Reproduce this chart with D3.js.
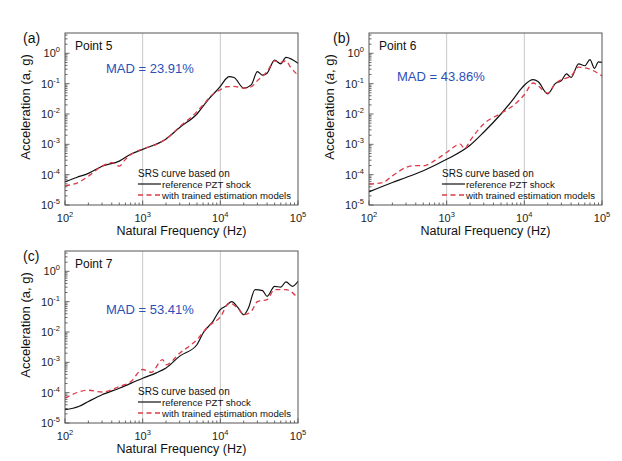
<!DOCTYPE html>
<html><head><meta charset="utf-8">
<script src="https://cdn.jsdelivr.net/npm/d3@7"></script>
<style>body{margin:0;background:#fff}svg{display:block;font-family:"Liberation Sans",Arial,sans-serif}</style>
</head><body><svg id="c" width="622" height="461"></svg>
<script>
// ---- data (frequency in Hz, acceleration in g) ----
const tickExponentsX = [2, 3, 4, 5];
const tickExponentsY = [-5, -4, -3, -2, -1, 0];
const panelLabels = ["(a)", "(b)", "(c)"];
const pointLabels = ["Point 5", "Point 6", "Point 7"];
const madLabels = ["MAD = 23.91%", "MAD = 43.86%", "MAD = 53.41%"];
const legendTexts = ["SRS curve based on", "reference PZT shock", "with trained estimation models"];

const refFreqA = [100,141,200,300,500,700,1000,2000,3000,5000,7000,10000,12000,13000,15000,20000,25000,30000,35000,40000,50000,60000,70000,100000];
const refValA  = [5.8e-5,8.1e-5,1.1e-4,1.9e-4,2.8e-4,4.7e-4,6.8e-4,1.5e-3,3.6e-3,0.010,0.030,0.081,0.15,0.17,0.16,0.071,0.091,0.25,0.19,0.22,0.60,0.45,0.74,0.47];
const estFreqA = [100,150,200,300,400,500,600,700,1000,1500,2000,3000,5000,6000,8000,10000,12000,15000,20000,25000,30000,40000,50000,60000,70000,80000,100000];
const estValA  = [4.3e-5,5.6e-5,8.9e-5,1.9e-4,2.5e-4,1.9e-4,3.2e-4,4.5e-4,7.1e-4,1.0e-3,1.5e-3,3.8e-3,0.012,0.020,0.045,0.063,0.079,0.081,0.071,0.079,0.126,0.25,0.56,0.50,0.56,0.35,0.19];

const refFreqB = [100,200,300,500,1000,2000,3000,5000,7000,9000,10000,13000,15000,20000,25000,30000,35000,40000,50000,60000,70000,80000,90000,100000];
const refValB  = [2.7e-5,5.5e-5,8.1e-5,1.35e-4,3.2e-4,9.3e-4,2.5e-3,0.010,0.028,0.066,0.089,0.135,0.117,0.046,0.10,0.126,0.21,0.16,0.45,0.39,0.62,0.32,0.52,0.50];
const estFreqB = [100,150,200,300,400,500,700,1000,1500,1700,2000,3000,5000,7000,10000,13000,15000,20000,25000,30000,40000,50000,70000,100000];
const estValB  = [4.9e-5,5.5e-5,9.1e-5,1.74e-4,2.0e-4,1.95e-4,2.9e-4,5.4e-4,1.02e-3,7.1e-4,1.32e-3,4.7e-3,0.0105,0.018,0.043,0.105,0.085,0.049,0.10,0.135,0.18,0.35,0.30,0.18];

const refFreqC = [100,150,200,300,500,1000,1500,2000,3000,5000,6000,8000,10000,12000,14000,17000,20000,23000,28000,35000,40000,50000,60000,70000,85000,100000];
const refValC  = [2.75e-5,3.5e-5,5.1e-5,8.5e-5,1.4e-4,3.0e-4,4.5e-4,6.5e-4,1.6e-3,3.8e-3,9.3e-3,0.022,0.055,0.074,0.10,0.062,0.037,0.062,0.25,0.23,0.15,0.32,0.30,0.45,0.32,0.47];
const estFreqC = [100,200,300,500,700,1000,1300,1800,2000,3000,5000,7000,10000,13000,17000,20000,25000,30000,40000,50000,70000,100000];
const estValC  = [6.6e-5,1.2e-4,1.05e-4,1.6e-4,2.3e-4,5.8e-4,4.7e-4,1.23e-3,8.3e-4,2.0e-3,5.6e-3,0.0155,0.031,0.091,0.058,0.037,0.048,0.10,0.117,0.25,0.25,0.13];

const panels = [
  {x:65,  y:33,  ref:[refFreqA, refValA], est:[estFreqA, estValA], mad:[41, 40], italic:false},
  {x:369, y:33,  ref:[refFreqB, refValB], est:[estFreqB, estValB], mad:[28, 48], italic:true},
  {x:65,  y:251, ref:[refFreqC, refValC], est:[estFreqC, estValC], mad:[41, 63], italic:false}
];
const W = 233, H = 172;
const svg = d3.select("#c");

panels.forEach((p, i) => {
  const g = svg.append("g").attr("transform", `translate(${p.x},${p.y})`);
  const x = d3.scaleLog().domain([1e2, 1e5]).range([0, W]);
  const y = d3.scaleLog().domain([1e-5, Math.pow(10, 0.67)]).range([H, 0]);

  // gridlines
  g.selectAll(".grid").data([1e3, 1e4]).enter().append("line")
    .attr("x1", d => x(d)).attr("x2", d => x(d)).attr("y1", 0).attr("y2", H)
    .attr("stroke", "#c8c8c8").attr("stroke-width", 1);

  // ticks x
  const xMinor = [];
  for (let e = 2; e < 5; e++) for (let m = 2; m <= 9; m++) xMinor.push(m * Math.pow(10, e));
  g.selectAll(".xmin").data(xMinor).enter().append("line")
    .attr("x1", d => x(d)).attr("x2", d => x(d)).attr("y1", H).attr("y2", H - 2.5)
    .attr("stroke", "#444").attr("stroke-width", 0.8);
  g.selectAll(".xmaj").data(tickExponentsX).enter().append("line")
    .attr("x1", d => x(Math.pow(10, d))).attr("x2", d => x(Math.pow(10, d))).attr("y1", H).attr("y2", H - 4.5)
    .attr("stroke", "#444").attr("stroke-width", 0.8);
  // ticks y
  const yMinor = [];
  for (let e = -5; e <= 0; e++) for (let m = 2; m <= 9; m++) { const v = m * Math.pow(10, e); if (v <= Math.pow(10, 0.67)) yMinor.push(v); }
  g.selectAll(".ymin").data(yMinor).enter().append("line")
    .attr("x1", 0).attr("x2", 2.5).attr("y1", d => y(d)).attr("y2", d => y(d))
    .attr("stroke", "#444").attr("stroke-width", 0.8);
  g.selectAll(".ymaj").data(tickExponentsY).enter().append("line")
    .attr("x1", 0).attr("x2", 4.5).attr("y1", d => y(Math.pow(10, d))).attr("y2", d => y(Math.pow(10, d)))
    .attr("stroke", "#444").attr("stroke-width", 0.8);

  // tick labels
  const xl = g.selectAll(".xl").data(tickExponentsX).enter().append("text")
    .attr("x", d => x(Math.pow(10, d))).attr("y", H + 17).attr("text-anchor", "middle")
    .attr("font-size", 11).attr("fill", "#222");
  xl.append("tspan").text("10");
  xl.append("tspan").attr("dy", -5).attr("font-size", 7.5).text(d => d);
  const yl = g.selectAll(".yl").data(tickExponentsY).enter().append("text")
    .attr("x", -5).attr("y", d => y(Math.pow(10, d)) + 4).attr("text-anchor", "end")
    .attr("font-size", 11).attr("fill", "#222");
  yl.append("tspan").text("10");
  yl.append("tspan").attr("dy", -5).attr("font-size", 7.5).text(d => d);

  // lines
  const line = d3.line().x(d => x(d[0])).y(d => y(d[1])).curve(d3.curveMonotoneX);
  const refPts = p.ref[0].map((f, k) => [f, p.ref[1][k]]);
  const estPts = p.est[0].map((f, k) => [f, p.est[1][k]]);
  g.append("path").datum(refPts).attr("d", line).attr("fill", "none")
    .attr("stroke", "#111").attr("stroke-width", 1.2);
  g.append("path").datum(estPts).attr("d", line).attr("fill", "none")
    .attr("stroke", "#dc3a48").attr("stroke-width", 1.3).attr("stroke-dasharray", "5,3.5");

  // frame
  g.append("rect").attr("width", W).attr("height", H).attr("fill", "none")
    .attr("stroke", "#555").attr("stroke-width", 1);

  // texts
  g.append("text").attr("x", 10).attr("y", 17).attr("font-size", 12).attr("fill", "#111").text(pointLabels[i]);
  g.append("text").attr("x", p.mad[0]).attr("y", p.mad[1]).attr("font-size", 13).attr("fill", "#2c4fb8").text(madLabels[i]);
  svg.append("text").attr("y", p.y + 10).attr("font-size", 14).attr("fill", "#111")
    .attr("x", i === 1 ? p.x - 36 : p.x - 42).text(panelLabels[i]);

  // legend
  const lx = 73;
  g.append("text").attr("x", lx).attr("y", H - 28).attr("font-size", 10).attr("fill", "#111").text(legendTexts[0]);
  g.append("line").attr("x1", lx).attr("x2", lx + 23).attr("y1", H - 21).attr("y2", H - 21)
    .attr("stroke", "#111").attr("stroke-width", 1.2);
  g.append("text").attr("x", lx + 24).attr("y", H - 17.5).attr("font-size", 9.6).attr("fill", "#111").text(legendTexts[1]);
  g.append("line").attr("x1", lx).attr("x2", lx + 23).attr("y1", H - 10).attr("y2", H - 10)
    .attr("stroke", "#dc3a48").attr("stroke-width", 1.3).attr("stroke-dasharray", "5,3.5");
  g.append("text").attr("x", lx + 24).attr("y", H - 6.5).attr("font-size", 9.6).attr("fill", "#111").text(legendTexts[2]);

  // axis titles
  g.append("text").attr("x", W / 2).attr("y", H + 30).attr("text-anchor", "middle")
    .attr("font-size", 12.5).attr("fill", "#111").text("Natural Frequency (Hz)");
  const yt = g.append("text").attr("transform", `translate(-35,74) rotate(-90)`).attr("text-anchor", "middle")
    .attr("font-size", 13).attr("fill", "#111");
  yt.append("tspan").text("Acceleration (");
  yt.append("tspan").attr("font-style", p.italic ? "italic" : "normal").text("a");
  yt.append("tspan").text(", g)");
});
</script></body></html>
